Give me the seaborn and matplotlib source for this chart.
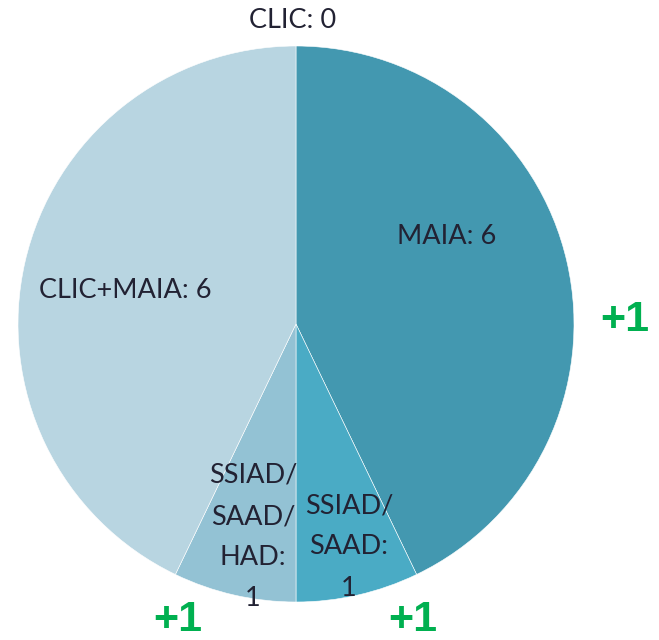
import matplotlib
matplotlib.use("Agg")
import matplotlib.pyplot as plt
import seaborn as sns

# данные
labels = ["CLIC: 0", "MAIA: 6", "SSIAD/\nSAAD:\n1", "SSIAD/\nSAAD/\nHAD:\n1", "CLIC+MAIA: 6"]
values = [0, 6, 1, 1, 6]
colors = ["#B8D5E1", "#4398B0", "#4AABC5", "#93C2D4", "#B8D5E1"]
deltas = ["+1", "+1", "+1"]

sns.set_style("white")
plt.rcParams["font.family"] = ["Lato", "DejaVu Sans"]

W, H = 659, 640
fig = plt.figure(figsize=(W / 100, H / 100), dpi=100)
ax = fig.add_axes([0, 0, 1, 1])

center = (296, H - 324)
radius = 278
ax.pie(values, colors=colors, startangle=90, counterclock=False,
       center=center, radius=radius,
       wedgeprops=dict(edgecolor="white", linewidth=0.4))

# позиции подписей (в пикселях, от верхнего левого угла)
label_pos = [(293, 20), (447, 237), (349, 547), (253, 537), (125, 290)]
for txt, (x, y) in zip(labels, label_pos):
    ax.text(x, H - y, txt, ha="center", va="center", fontsize=19.5,
            color="#222233", linespacing=1.8)

delta_pos = [(625, 320), (178, 620), (413, 620)]
for txt, (x, y) in zip(deltas, delta_pos):
    ax.text(x, H - y, txt, ha="center", va="center", fontsize=31,
            fontweight="bold", color="#00B050", family=["Liberation Sans", "DejaVu Sans"])

ax.set_xlim(0, W)
ax.set_ylim(0, H)
ax.set_aspect("equal")
ax.axis("off")

fig.savefig("out.png", dpi=100)
